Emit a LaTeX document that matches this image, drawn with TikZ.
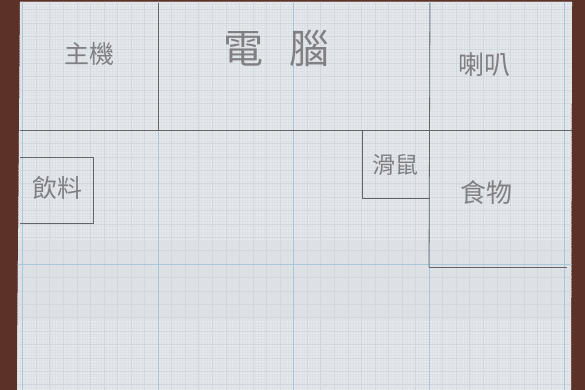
\documentclass[tikz,border=0pt]{standalone}
\usepackage{fontspec}
\newfontfamily\cjk{Noto Sans CJK TC}
\definecolor{wood}{RGB}{92,50,40}
\definecolor{paper}{RGB}{230,233,236}
\definecolor{fine}{RGB}{221,225,230}
\definecolor{medium}{RGB}{208,215,222}
\definecolor{major}{RGB}{168,200,218}
\definecolor{pencil}{RGB}{100,100,104}
\definecolor{ink}{RGB}{128,128,132}
\tikzset{
  pencilline/.style={draw=pencil, line width=0.8pt},
  hand/.style={text=ink, font=\cjk\fontsize{#1}{#1}\selectfont, inner sep=0pt},
}
\begin{document}
\begin{tikzpicture}[x=1pt,y=-1pt]
\useasboundingbox (0,0) rectangle (585,390);
% wooden background
\fill[wood] (0,0) rectangle (585,390);
% paper sheet
\fill[paper] (20,2) -- (572,2) -- (571,390) -- (17,390) -- cycle;
\begin{scope}
\clip (20,2) -- (572,2) -- (571,390) -- (17,390) -- cycle;
% soft shadow band on the lower half
\fill[black, opacity=0.03] (0,240) rectangle (585,320);
% fine grid (1 mm)
\foreach \i in {0,...,210} {
  \draw[fine, line width=0.2pt] ({22.5+2.71*\i-2.71*3},0) -- ++(0,390);
}
\foreach \j in {0,...,146} {
  \draw[fine, line width=0.2pt] (0,{-4+2.68*\j}) -- ++(585,0);
}
% medium grid (5 mm)
\foreach \i in {-1,...,42} {
  \draw[medium, line width=0.35pt] ({22.5+13.55*\i},0) -- ++(0,390);
}
\foreach \j in {0,...,30} {
  \draw[medium, line width=0.35pt] (0,{-4+13.4*\j}) -- ++(585,0);
}
% major blue grid
\foreach \x in {22.5,158,293.5,429,564.5} {
  \draw[major, line width=0.6pt] (\x,0) -- (\x,390);
}
\foreach \y in {130,264} {
  \draw[major, line width=0.6pt] (0,\y) -- (585,\y);
}
\end{scope}
% pencil layout lines
\draw[pencilline] (20,130) -- (572,130);
\draw[pencilline] (158,3) -- (158,130);
\draw[pencilline] (430,3) -- (429,267);
\draw[pencilline] (429,267) -- (567,267);
% mouse box
\draw[pencilline] (362,130) -- (362,198) -- (430,198);
% drink box
\draw[pencilline] (20,157) -- (93,157) -- (93,223) -- (20,223);
% labels
\node[hand=25] (host) at (89,54) {主機};
\node[hand=40] (pc) at (276,48) {電\hspace{26pt}腦};
\node[hand=26] (spk) at (484,65) {喇叭};
\node[hand=25] (drink) at (57,188) {飲料};
\node[hand=23] (mouse) at (395,165) {滑鼠};
\node[hand=26] (food) at (486,193) {食物};
\end{tikzpicture}
\end{document}
